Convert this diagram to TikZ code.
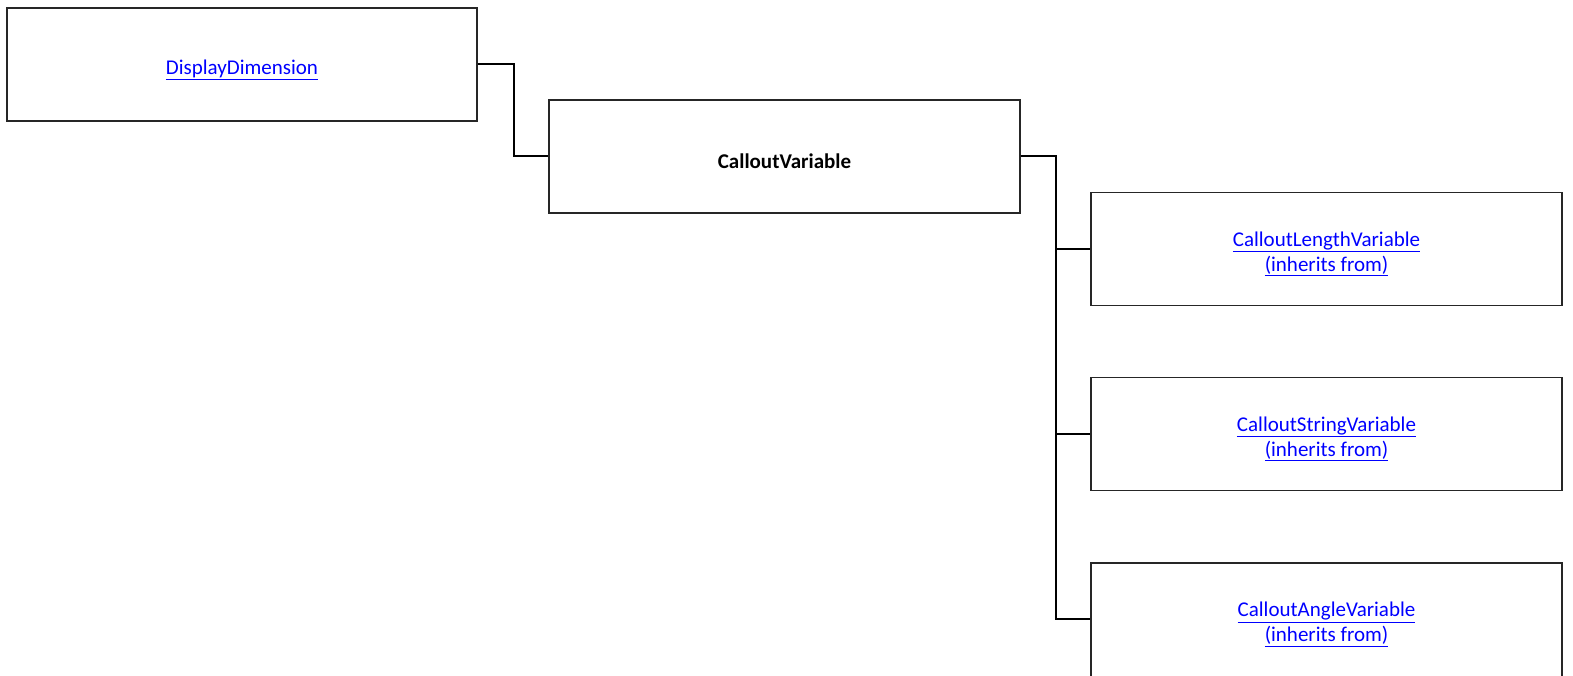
\documentclass[tikz,border=0pt]{standalone}
\usepackage{fontspec}
\setmainfont{Carlito}
\definecolor{linkblue}{RGB}{0,0,255}
\tikzset{
  box/.style={draw=black!85, line width=1.2pt, minimum width=471pt, minimum height=113pt,
    inner sep=0pt},
  txt/.style={align=center, font=\fontsize{21}{25}\selectfont, inner sep=0pt, yshift=-5pt},
  link/.style={txt, text=linkblue},
  conn/.style={line width=2pt, draw=black}
}
\newcommand{\lnk}[1]{\underline{#1}}
\begin{document}
\begin{tikzpicture}[x=1pt,y=-1pt]
\useasboundingbox (0,0) rectangle (1573,676);
\node[box, minimum width=470pt, label={[link]center:\lnk{DisplayDimension}}] (dd) at (242,64.5) {};
\node[box, label={[txt]center:\textbf{CalloutVariable}}] (cv) at (784.5,156.5) {};
\node[box, label={[link]center:\lnk{CalloutLengthVariable}\\\lnk{(inherits from)}}] (clv) at (1326.5,249) {};
\node[box, label={[link]center:\lnk{CalloutStringVariable}\\\lnk{(inherits from)}}] (csv) at (1326.5,434) {};
\node[box, minimum height=120pt, label={[link, yshift=3.5pt]center:\lnk{CalloutAngleVariable}\\\lnk{(inherits from)}}] (cav) at (1326.5,623) {};
\coordinate (bus) at (1056,156.5);
\draw[conn] (dd.east) -- ++(36,0) |- (cv.west);
\draw[conn] (cv.east) -- (bus) |- (clv.west);
\draw[conn] (bus) |- (csv.west);
\draw[conn] (bus) -- (bus |- 619,619) -- (cav.west |- 619,619);
\end{tikzpicture}
\end{document}
